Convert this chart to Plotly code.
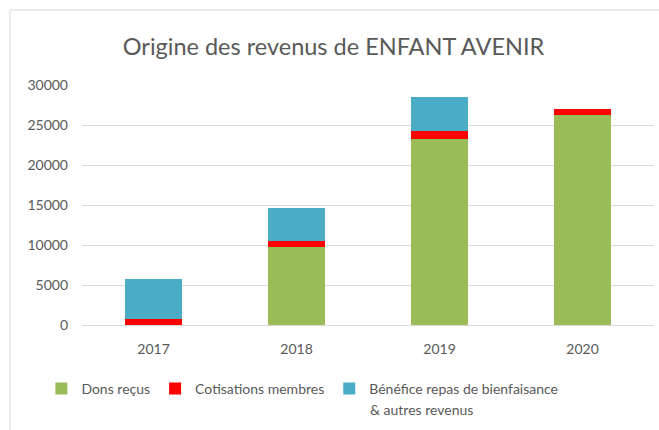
import plotly.graph_objects as go

years = ["2017", "2018", "2019", "2020"]
dons = [0, 9800, 23300, 26300]
cotisations = [800, 700, 1000, 700]
benefice = [4900, 4100, 4200, 0]

series_names = ["Dons reçus", "Cotisations membres", "Bénéfice repas de bienfaisance"]
legend_extra = "& autres revenus"
colors = ["#9BBB59", "#FF0000", "#4BACC6"]

W, H = 659, 430
L, R, T, B = 82, 5, 85, 105
pw, ph = W - L - R, H - T - B

fig = go.Figure()
for name, vals, col in zip(series_names, [dons, cotisations, benefice], colors):
    fig.add_trace(go.Bar(x=years, y=vals, name=name, marker=dict(color=col, line=dict(width=0)), width=0.4))

font_family = "Lato, 'Open Sans', sans-serif"
fig.update_layout(
    width=W, height=H,
    barmode="stack",
    margin=dict(l=L, r=R, t=T, b=B),
    paper_bgcolor="white", plot_bgcolor="white",
    font=dict(family=font_family, color="#595959", size=14),
    title=dict(text="Origine des revenus de ENFANT AVENIR", x=333.5 / W, xanchor="center",
               y=1 - 47 / H, yanchor="middle", font=dict(size=23.5, color="#595959")),
    xaxis=dict(showgrid=False, showline=True, linecolor="#D9D9D9", linewidth=1,
               ticks="", ticklabelstandoff=11, tickfont=dict(size=14)),
    yaxis=dict(range=[0, 30000], dtick=5000, tickformat="d", showgrid=True, gridcolor="#D9D9D9", gridwidth=1,
               zeroline=False, ticks="", ticklabelstandoff=13, tickfont=dict(size=14)),
    legend=dict(orientation="h", x=-0.071, xanchor="left", y=-(373 - (T + ph)) / ph, yanchor="top",
                valign="top", font=dict(size=14), itemwidth=30, traceorder="normal"),
    showlegend=True,
    annotations=[dict(text=legend_extra, xref="paper", yref="paper", x=(368 - L) / pw, xanchor="left",
                      y=-(409 - (T + ph)) / ph, yanchor="middle", showarrow=False,
                      font=dict(size=14, color="#595959"))],
    shapes=[dict(type="rect", xref="paper", yref="paper",
                 x0=(10 - L) / pw, x1=(W + 20 - L) / pw,
                 y0=-(H + 20 - T - ph) / ph, y1=(T + ph - 10) / ph,
                 line=dict(color="#D9D9D9", width=1), fillcolor="rgba(0,0,0,0)", layer="below")],
)

fig.write_html("out.html", config={"displayModeBar": False},
               post_script="document.body.style.margin='0';document.body.style.overflow='hidden';")
